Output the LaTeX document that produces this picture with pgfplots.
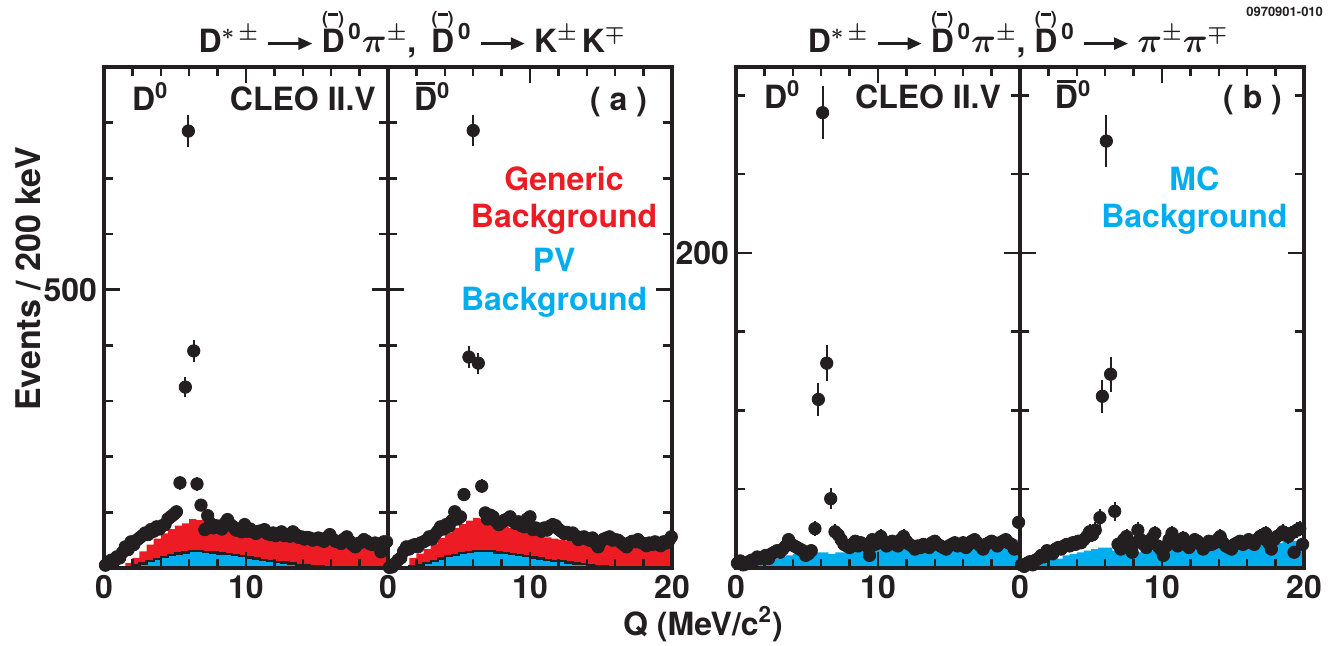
\documentclass[border=0pt]{standalone}
\usepackage{fontspec}
\setmainfont{TeX Gyre Heros}
\usepackage{pgfplots}
\pgfplotsset{compat=1.18}
\usepackage{pgfplotstable}
\usetikzlibrary{arrows.meta}
\definecolor{cleored}{HTML}{ED1C24}
\definecolor{cleocyan}{HTML}{00AEEF}
\definecolor{ink}{HTML}{231F20}

% D with "(bar)" above it, D with a bar, and the decay arrow
\newcommand\DB{\leavevmode\rlap{\raisebox{13.6pt}{\makebox[11.5pt]{\fontsize{9}{9}\selectfont(\rule[4.6pt]{5pt}{1.4pt})}}}D}
\newcommand\Dbar{\leavevmode\rlap{\hspace{1pt}\raisebox{12.6pt}{\rule{9.5pt}{1.6pt}}}D}
\newcommand\arr{\hspace{4pt}\tikz[baseline=-4.2pt]\draw[ink,line width=1.3pt,-{Triangle[length=7pt,width=6pt]}] (0,0)--(22pt,0);\hspace{4pt}}

% data points: Q, events, error
\pgfplotstableread[row sep=\\]{
x y e\\
0.1 5 2\\ 0.3 10 3\\ 0.5 14 4\\ 0.7 12 3\\ 0.9 20 4\\ 1.1 18 4\\ 1.3 28 5\\ 1.5 38 6\\ 1.7 33 6\\ 1.9 47 7\\
2.1 42 6\\ 2.3 50 7\\ 2.5 54 7\\ 2.7 58 8\\ 2.9 63 8\\ 3.1 60 8\\ 3.3 69 8\\ 3.5 66 8\\ 3.7 74 9\\ 3.9 70 8\\
4.1 76 9\\ 4.3 78 9\\ 4.5 88 9\\ 4.7 92 10\\ 4.9 96 10\\ 5.1 101 10\\ 5.35 153 12\\ 5.73 325 18\\ 5.94 785 28\\ 6.32 390 20\\
6.55 151 12\\ 6.83 113 11\\ 7.1 69 8\\ 7.3 94 10\\ 7.5 80 9\\ 7.7 72 8\\ 7.9 76 9\\ 8.1 74 9\\ 8.3 70 8\\ 8.5 80 9\\
8.7 87 9\\ 8.9 78 9\\ 9.1 74 9\\ 9.3 68 8\\ 9.5 70 8\\ 9.7 65 8\\ 9.9 78 9\\ 10.1 66 8\\ 10.3 70 8\\ 10.5 65 8\\
10.7 62 8\\ 10.9 66 8\\ 11.1 67 8\\ 11.3 69 8\\ 11.5 62 8\\ 11.7 60 8\\ 11.9 63 8\\ 12.1 58 8\\ 12.3 62 8\\ 12.5 65 8\\
12.7 58 8\\ 12.9 60 8\\ 13.1 57 8\\ 13.3 65 8\\ 13.5 60 8\\ 13.7 55 7\\ 13.9 56 7\\ 14.1 52 7\\ 14.3 55 7\\ 14.5 54 7\\
14.7 50 7\\ 14.9 52 7\\ 15.1 54 7\\ 15.3 50 7\\ 15.5 48 7\\ 15.7 55 7\\ 15.9 60 8\\ 16.1 52 7\\ 16.3 48 7\\ 16.5 47 7\\
16.7 44 7\\ 16.9 52 7\\ 17.1 56 7\\ 17.3 48 7\\ 17.5 42 6\\ 17.7 38 6\\ 17.9 44 7\\ 18.1 46 7\\ 18.3 51 7\\ 18.5 48 7\\
18.7 44 7\\ 18.9 42 6\\ 19.1 45 7\\ 19.3 40 6\\ 19.5 29 5\\ 19.7 47 7\\ 19.9 47 7\\
}\kkD
\pgfplotstableread[row sep=\\]{
x y e\\
0.1 1 1\\ 0.3 2 1.4\\ 0.5 8 3\\ 0.7 14 4\\ 0.9 18 4\\ 1.1 30 5\\ 1.3 38 6\\ 1.5 34 6\\ 1.7 40 6\\ 1.9 42 6\\
2.1 38 6\\ 2.3 45 7\\ 2.5 47 7\\ 2.7 50 7\\ 2.9 56 7\\ 3.1 52 7\\ 3.3 60 8\\ 3.5 66 8\\ 3.7 74 9\\ 3.9 70 8\\
4.1 78 9\\ 4.3 75 9\\ 4.5 85 9\\ 4.7 101 10\\ 4.9 88 9\\ 5.1 92 10\\ 5.35 132 11\\ 5.7 379 19\\ 6.0 786 28\\ 6.36 368 19\\
6.6 147 12\\ 6.85 99 10\\ 7.0 88 9\\ 7.2 95 10\\ 7.4 92 10\\ 7.6 84 9\\ 7.8 78 9\\ 8.0 82 9\\ 8.2 86 9\\ 8.4 88 9\\
8.6 92 10\\ 8.8 84 9\\ 9.0 80 9\\ 9.2 83 9\\ 9.4 76 9\\ 9.6 74 9\\ 9.8 88 9\\ 10.0 92 10\\ 10.2 69 8\\ 10.4 72 8\\
10.6 70 8\\ 10.8 66 8\\ 11.0 72 8\\ 11.2 68 8\\ 11.4 75 9\\ 11.6 78 9\\ 11.8 76 9\\ 12.0 70 8\\ 12.2 66 8\\ 12.4 62 8\\
12.6 64 8\\ 12.8 60 8\\ 13.0 63 8\\ 13.2 58 8\\ 13.4 51 7\\ 13.6 55 7\\ 13.8 56 7\\ 14.0 52 7\\ 14.2 50 7\\ 14.4 54 7\\
14.6 45 7\\ 14.8 38 6\\ 15.0 48 7\\ 15.2 52 7\\ 15.4 54 7\\ 15.6 56 7\\ 15.8 50 7\\ 16.0 51 7\\ 16.2 50 7\\ 16.4 46 7\\
16.6 42 6\\ 16.8 38 6\\ 17.0 45 7\\ 17.2 48 7\\ 17.4 47 7\\ 17.6 51 7\\ 17.8 46 7\\ 18.0 44 7\\ 18.2 40 6\\ 18.4 45 7\\
18.6 42 6\\ 18.8 47 7\\ 19.0 44 7\\ 19.2 40 6\\ 19.4 47 7\\ 19.6 45 7\\ 19.8 50 7\\ 19.95 56 7\\
}\kkDbar
\pgfplotstableread[row sep=\\]{
x y e\\
0.1 3 1.7\\ 0.3 4.5 2\\ 0.5 2 1.4\\ 0.7 2.5 1.6\\ 0.9 4 2\\ 1.1 5 2.2\\ 1.3 5 2.2\\ 1.5 7 2.6\\ 1.7 6 2.4\\ 1.9 7 2.6\\
2.1 8 2.8\\ 2.3 6 2.4\\ 2.5 9 3\\ 2.7 10 3.2\\ 2.9 11 3.3\\ 3.1 10 3.2\\ 3.3 12 3.5\\ 3.5 14 3.7\\ 3.7 18 4.2\\ 3.9 15 3.9\\
4.1 14 3.7\\ 4.3 13 3.6\\ 4.5 12 3.5\\ 4.7 11 3.3\\ 4.9 8 2.8\\ 5.1 9 3\\ 5.3 11 3.3\\ 5.56 25 5\\ 5.8 107 10.3\\ 6.1 289 17\\
6.39 130 11.4\\ 6.67 44 6.6\\ 6.97 23 4.8\\ 7.2 21 4.6\\ 7.4 18 4.2\\ 7.6 15 3.9\\ 7.8 14 3.7\\ 8.0 13 3.6\\ 8.2 15 3.9\\ 8.4 17 4.1\\
8.6 14 3.7\\ 8.8 16 4\\ 9.0 15 3.9\\ 9.2 14 3.7\\ 9.4 8 2.8\\ 9.6 18 4.2\\ 9.8 15 3.9\\ 10.0 16 4\\ 10.2 20 4.5\\ 10.4 17 4.1\\
10.6 14 3.7\\ 10.8 15 3.9\\ 11.0 17 4.1\\ 11.2 16 4\\ 11.4 14 3.7\\ 11.6 18 4.2\\ 11.8 20 4.5\\ 12.0 17 4.1\\ 12.2 15 3.9\\ 12.4 14 3.7\\
12.6 12 3.5\\ 12.8 14 3.7\\ 13.0 13 3.6\\ 13.2 15 3.9\\ 13.4 14 3.7\\ 13.6 13 3.6\\ 13.8 16 4\\ 14.0 17 4.1\\ 14.2 15 3.9\\ 14.4 14 3.7\\
14.6 13 3.6\\ 14.8 12 3.5\\ 15.0 14 3.7\\ 15.2 15 3.9\\ 15.4 16 4\\ 15.6 14 3.7\\ 15.8 15 3.9\\ 16.0 16 4\\ 16.2 13 3.6\\ 16.4 15 3.9\\
16.6 17 4.1\\ 16.8 18 4.2\\ 17.0 16 4\\ 17.2 14 3.7\\ 17.4 12 3.5\\ 17.6 15 3.9\\ 17.8 16 4\\ 18.0 17 4.1\\ 18.2 16 4\\ 18.4 14 3.7\\
18.6 16 4\\ 18.8 17 4.1\\ 19.0 18 4.2\\ 19.2 16 4\\ 19.4 15 3.9\\ 19.6 12 3.5\\ 19.9 29 5.4\\
}\ppD
\pgfplotstableread[row sep=\\]{
x y e\\
0.1 2 1.4\\ 0.3 1 1\\ 0.5 3 1.7\\ 0.7 4 2\\ 0.9 2 1.4\\ 1.1 5 2.2\\ 1.3 6 2.4\\ 1.5 8 2.8\\ 1.7 7 2.6\\ 1.9 11 3.3\\
2.1 10 3.2\\ 2.3 9 3\\ 2.5 12 3.5\\ 2.7 13 3.6\\ 2.9 12 3.5\\ 3.1 14 3.7\\ 3.3 15 3.9\\ 3.5 14 3.7\\ 3.7 16 4\\ 3.9 15 3.9\\
4.1 17 4.1\\ 4.3 16 4\\ 4.5 18 4.2\\ 4.7 20 4.5\\ 4.9 23 4.8\\ 5.1 21 4.6\\ 5.3 24 4.9\\ 5.63 32 5.7\\ 5.8 109 10.4\\ 6.08 271 16.5\\
6.38 123 11.1\\ 6.67 36 6\\ 6.9 15 3.9\\ 7.1 12 3.5\\ 7.3 18 4.2\\ 7.5 20 4.5\\ 7.7 14 3.7\\ 7.9 10 3.2\\ 8.1 16 4\\ 8.3 24 4.9\\
8.5 18 4.2\\ 8.7 15 3.9\\ 8.9 13 3.6\\ 9.1 17 4.1\\ 9.3 19 4.4\\ 9.5 22 4.7\\ 9.7 14 3.7\\ 9.9 12 3.5\\ 10.1 8 2.8\\ 10.3 14 3.7\\
10.5 18 4.2\\ 10.7 22 4.7\\ 10.9 18 4.2\\ 11.1 14 3.7\\ 11.3 16 4\\ 11.5 19 4.4\\ 11.7 15 3.9\\ 11.9 13 3.6\\ 12.1 16 4\\ 12.3 18 4.2\\
12.5 17 4.1\\ 12.7 15 3.9\\ 12.9 12 3.5\\ 13.1 14 3.7\\ 13.3 17 4.1\\ 13.5 15 3.9\\ 13.7 16 4\\ 13.9 18 4.2\\ 14.1 20 4.5\\ 14.3 16 4\\
14.5 14 3.7\\ 14.7 13 3.6\\ 14.9 12 3.5\\ 15.1 15 3.9\\ 15.3 16 4\\ 15.5 17 4.1\\ 15.7 15 3.9\\ 15.9 16 4\\ 16.1 18 4.2\\ 16.3 17 4.1\\
16.5 15 3.9\\ 16.7 18 4.2\\ 16.9 20 4.5\\ 17.1 19 4.4\\ 17.3 22 4.7\\ 17.5 16 4\\ 17.7 12 3.5\\ 17.9 18 4.2\\ 18.1 20 4.5\\ 18.3 21 4.6\\
18.5 23 4.8\\ 18.7 22 4.7\\ 18.9 20 4.5\\ 19.1 22 4.7\\ 19.3 10 3.2\\ 19.5 24 4.9\\ 19.7 25 5\\ 19.9 15 3.9\\
}\ppDbar

% backgrounds, 0.5 MeV bins (left edge, height)
\pgfplotstableread[row sep=\\]{
x y\\
0 0\\ 0.5 0\\ 1 3\\ 1.5 9\\ 2 18\\ 2.5 30\\ 3 42\\ 3.5 53\\ 4 62\\ 4.5 70\\ 5 76\\ 5.5 80\\ 6 88\\ 6.5 86\\ 7 84\\ 7.5 80\\
8 75\\ 8.5 71\\ 9 67\\ 9.5 63\\ 10 60\\ 10.5 58\\ 11 56\\ 11.5 54\\ 12 52\\ 12.5 50\\ 13 49\\ 13.5 47\\ 14 46\\ 14.5 45\\
15 44\\ 15.5 42\\ 16 41\\ 16.5 40\\ 17 39\\ 17.5 38\\ 18 37\\ 18.5 37\\ 19 36\\ 19.5 35\\ 20 35\\
}\genA
\pgfplotstableread[row sep=\\]{
x y\\
0 0\\ 0.5 0\\ 1 1\\ 1.5 2\\ 2 5\\ 2.5 8\\ 3 12\\ 3.5 16\\ 4 20\\ 4.5 23\\ 5 26\\ 5.5 28\\ 6 30\\ 6.5 30\\ 7 29\\ 7.5 28\\
8 26\\ 8.5 25\\ 9 23\\ 9.5 21\\ 10 19\\ 10.5 17\\ 11 15\\ 11.5 13\\ 12 11\\ 12.5 10\\ 13 8\\ 13.5 6\\ 14 5\\ 14.5 4\\
15 3\\ 15.5 2\\ 16 1.5\\ 16.5 1\\ 17 1\\ 17.5 0.5\\ 18 0.5\\ 18.5 0.5\\ 19 0.3\\ 19.5 0.3\\ 20 0.3\\
}\pvA
\pgfplotstableread[row sep=\\]{
x y\\
0 0\\ 0.5 0\\ 1 0\\ 1.5 18\\ 2 26\\ 2.5 34\\ 3 44\\ 3.5 54\\ 4 63\\ 4.5 72\\ 5 79\\ 5.5 85\\ 6 90\\ 6.5 88\\ 7 85\\ 7.5 81\\
8 77\\ 8.5 72\\ 9 68\\ 9.5 64\\ 10 60\\ 10.5 57\\ 11 55\\ 11.5 53\\ 12 51\\ 12.5 49\\ 13 48\\ 13.5 46\\ 14 45\\ 14.5 44\\
15 43\\ 15.5 42\\ 16 41\\ 16.5 40\\ 17 40\\ 17.5 39\\ 18 38\\ 18.5 38\\ 19 37\\ 19.5 37\\ 20 37\\
}\genB
\pgfplotstableread[row sep=\\]{
x y\\
0 0\\ 0.5 0\\ 1 1\\ 1.5 3\\ 2 6\\ 2.5 9\\ 3 13\\ 3.5 17\\ 4 21\\ 4.5 24\\ 5 27\\ 5.5 29\\ 6 30\\ 6.5 31\\ 7 30\\ 7.5 28\\
8 27\\ 8.5 25\\ 9 23\\ 9.5 21\\ 10 19\\ 10.5 17\\ 11 15\\ 11.5 13\\ 12 12\\ 12.5 10\\ 13 8\\ 13.5 7\\ 14 5\\ 14.5 4\\
15 3\\ 15.5 2\\ 16 1.5\\ 16.5 1\\ 17 1\\ 17.5 0.5\\ 18 0.5\\ 18.5 0.5\\ 19 0.3\\ 19.5 0.3\\ 20 0.3\\
}\pvB
\pgfplotstableread[row sep=\\]{
x y\\
0 0\\ 0.5 1\\ 1 2\\ 1.5 3\\ 2 4\\ 2.5 6\\ 3 7\\ 3.5 8\\ 4 9\\ 4.5 9\\ 5 9\\ 5.5 10\\ 6 10\\ 6.5 9\\ 7 10\\ 7.5 10\\
8 11\\ 8.5 11\\ 9 12\\ 9.5 11\\ 10 12\\ 10.5 12\\ 11 12\\ 11.5 12\\ 12 11\\ 12.5 12\\ 13 12\\ 13.5 13\\ 14 12\\ 14.5 13\\
15 13\\ 15.5 13\\ 16 14\\ 16.5 13\\ 17 14\\ 17.5 14\\ 18 15\\ 18.5 15\\ 19 16\\ 19.5 18\\ 20 18\\
}\mcC
\pgfplotstableread[row sep=\\]{
x y\\
0 0\\ 0.5 1\\ 1 2\\ 1.5 3\\ 2 5\\ 2.5 6\\ 3 8\\ 3.5 9\\ 4 10\\ 4.5 11\\ 5 12\\ 5.5 13\\ 6 13\\ 6.5 11\\ 7 10\\ 7.5 10\\
8 10\\ 8.5 11\\ 9 11\\ 9.5 12\\ 10 12\\ 10.5 12\\ 11 13\\ 11.5 12\\ 12 13\\ 12.5 13\\ 13 13\\ 13.5 14\\ 14 13\\ 14.5 14\\
15 14\\ 15.5 14\\ 16 15\\ 16.5 15\\ 17 15\\ 17.5 16\\ 18 16\\ 18.5 17\\ 19 17\\ 19.5 18\\ 20 18\\
}\mcD

\pgfplotsset{
  panel/.style={
    scale only axis, width=142pt, height=250.5pt,
    xmin=0, xmax=20, ymin=0,
    axis on top, clip=false,
    tick align=inside,
    major tick length=8pt, minor tick length=4.5pt,
    xtick={0,10,20}, minor xtick={2,4,...,18},
    tick style={ink, line width=1.2pt},
    axis line style={ink, line width=1.7pt},
    tick label style={font=\fontsize{16}{16}\selectfont\bfseries, text=ink},
    /pgf/number format/assume math mode=true,
  },
  pts/.style={only marks, mark=*, mark size=3.1pt, color=ink,
    error bars/.cd, y dir=both, y explicit, error mark=none,
    error bar style={line width=1pt, ink}},
  hist/.style={const plot, draw=none, fill=#1},
}

\begin{document}
\begin{tikzpicture}[font=\bfseries]
\useasboundingbox (0,0) rectangle (670.5pt,322.5pt);

% K+K- , D0
\begin{axis}[panel, at={(52pt,38.5pt)}, xtick={0,10},
  ymax=900, ytick={500}, minor ytick={100,200,...,900}]
\addplot[hist=cleored] table[x=x,y=y] {\genA} \closedcycle;
\addplot[hist=cleocyan] table[x=x,y=y] {\pvA} \closedcycle;
\addplot[const plot, ink, line width=1.1pt] table[x=x,y=y] {\pvA};
\addplot[pts] table[x=x,y=y,y error=e] {\kkD};
\node[anchor=base west, font=\fontsize{16}{16}\selectfont\bfseries, ink] at (rel axis cs:0.074,0.914) {D\raisebox{6pt}{\fontsize{11}{11}\selectfont 0}};
\node[anchor=base east, font=\fontsize{16}{16}\selectfont\bfseries, ink] at (rel axis cs:0.982,0.914) {CLEO II.V};
\end{axis}

% K+K- , D0bar
\begin{axis}[panel, at={(194pt,38.5pt)},
  ymax=900, ytick={500}, minor ytick={100,200,...,900}, yticklabels={}]
\addplot[hist=cleored] table[x=x,y=y] {\genB} \closedcycle;
\addplot[hist=cleocyan] table[x=x,y=y] {\pvB} \closedcycle;
\addplot[const plot, ink, line width=1.1pt] table[x=x,y=y] {\pvB};
\addplot[pts] table[x=x,y=y,y error=e] {\kkDbar};
\node[anchor=base west, font=\fontsize{16}{16}\selectfont\bfseries, ink] at (rel axis cs:0.067,0.914) {\Dbar\raisebox{6pt}{\fontsize{11}{11}\selectfont 0}};
\node[anchor=base east, font=\fontsize{16}{16}\selectfont\bfseries, ink] at (rel axis cs:0.937,0.914) {( a )};
\begin{scope}[every node/.style={anchor=base, font=\fontsize{16}{16}\selectfont\bfseries}]
\node[text=cleored] at (rel axis cs:0.62,0.754) {Generic};
\node[text=cleored] at (rel axis cs:0.62,0.679) {Background};
\node[text=cleocyan] at (rel axis cs:0.585,0.591) {PV};
\node[text=cleocyan] at (rel axis cs:0.585,0.515) {Background};
\end{scope}
\end{axis}

% pi+pi- , D0
\begin{axis}[panel, at={(368pt,38.5pt)}, xtick={0,10},
  ymax=318, ytick={200}, minor ytick={50,100,...,300}]
\addplot[hist=cleocyan] table[x=x,y=y] {\mcC} \closedcycle;
\addplot[pts] table[x=x,y=y,y error=e] {\ppD};
\node[anchor=base west, font=\fontsize{16}{16}\selectfont\bfseries, ink] at (rel axis cs:0.074,0.918) {D\raisebox{6pt}{\fontsize{11}{11}\selectfont 0}};
\node[anchor=base east, font=\fontsize{16}{16}\selectfont\bfseries, ink] at (rel axis cs:0.958,0.918) {CLEO II.V};
\end{axis}

% pi+pi- , D0bar
\begin{axis}[panel, at={(510pt,38.5pt)},
  ymax=318, ytick={200}, minor ytick={50,100,...,300}, yticklabels={}]
\addplot[hist=cleocyan] table[x=x,y=y] {\mcD} \closedcycle;
\addplot[pts] table[x=x,y=y,y error=e] {\ppDbar};
\node[anchor=base west, font=\fontsize{16}{16}\selectfont\bfseries, ink] at (rel axis cs:0.098,0.918) {\Dbar\raisebox{6pt}{\fontsize{11}{11}\selectfont 0}};
\node[anchor=base east, font=\fontsize{16}{16}\selectfont\bfseries, ink] at (rel axis cs:0.947,0.918) {( b )};
\begin{scope}[every node/.style={anchor=base, font=\fontsize{16}{16}\selectfont\bfseries}]
\node[text=cleocyan] at (rel axis cs:0.614,0.754) {MC};
\node[text=cleocyan] at (rel axis cs:0.614,0.679) {Background};
\end{scope}
\end{axis}

% titles and labels
\node[anchor=base, ink, font=\fontsize{16}{19}\selectfont\bfseries\boldmath] at (206pt,296.5pt)
  {D$^{*\,\pm}$\arr\DB\textsuperscript{\,0}$\pi^{\pm}$,\hspace{3pt} \DB\textsuperscript{\,0}\arr K$^{\pm}$\hspace{2pt}K$^{\mp}$};
\node[anchor=base, ink, font=\fontsize{16}{19}\selectfont\bfseries\boldmath] at (509pt,296.5pt)
  {D$^{*\,\pm}$\arr\DB\textsuperscript{\,0}$\pi^{\pm}$, \DB\textsuperscript{\,0}\arr$\pi^{\pm}\pi^{\mp}$};
\node[anchor=east, ink, font=\fontsize{6.5}{7}\selectfont\bfseries] at (665pt,316.5pt) {0970901-010};
\node[rotate=90, ink, font=\fontsize{17}{17}\selectfont\bfseries] at (14pt,183pt) {Events / 200 keV};
\node[ink, font=\fontsize{16}{16}\selectfont\bfseries] at (351.5pt,10.5pt) {Q (MeV/c\textsuperscript{2})};
\end{tikzpicture}
\end{document}
